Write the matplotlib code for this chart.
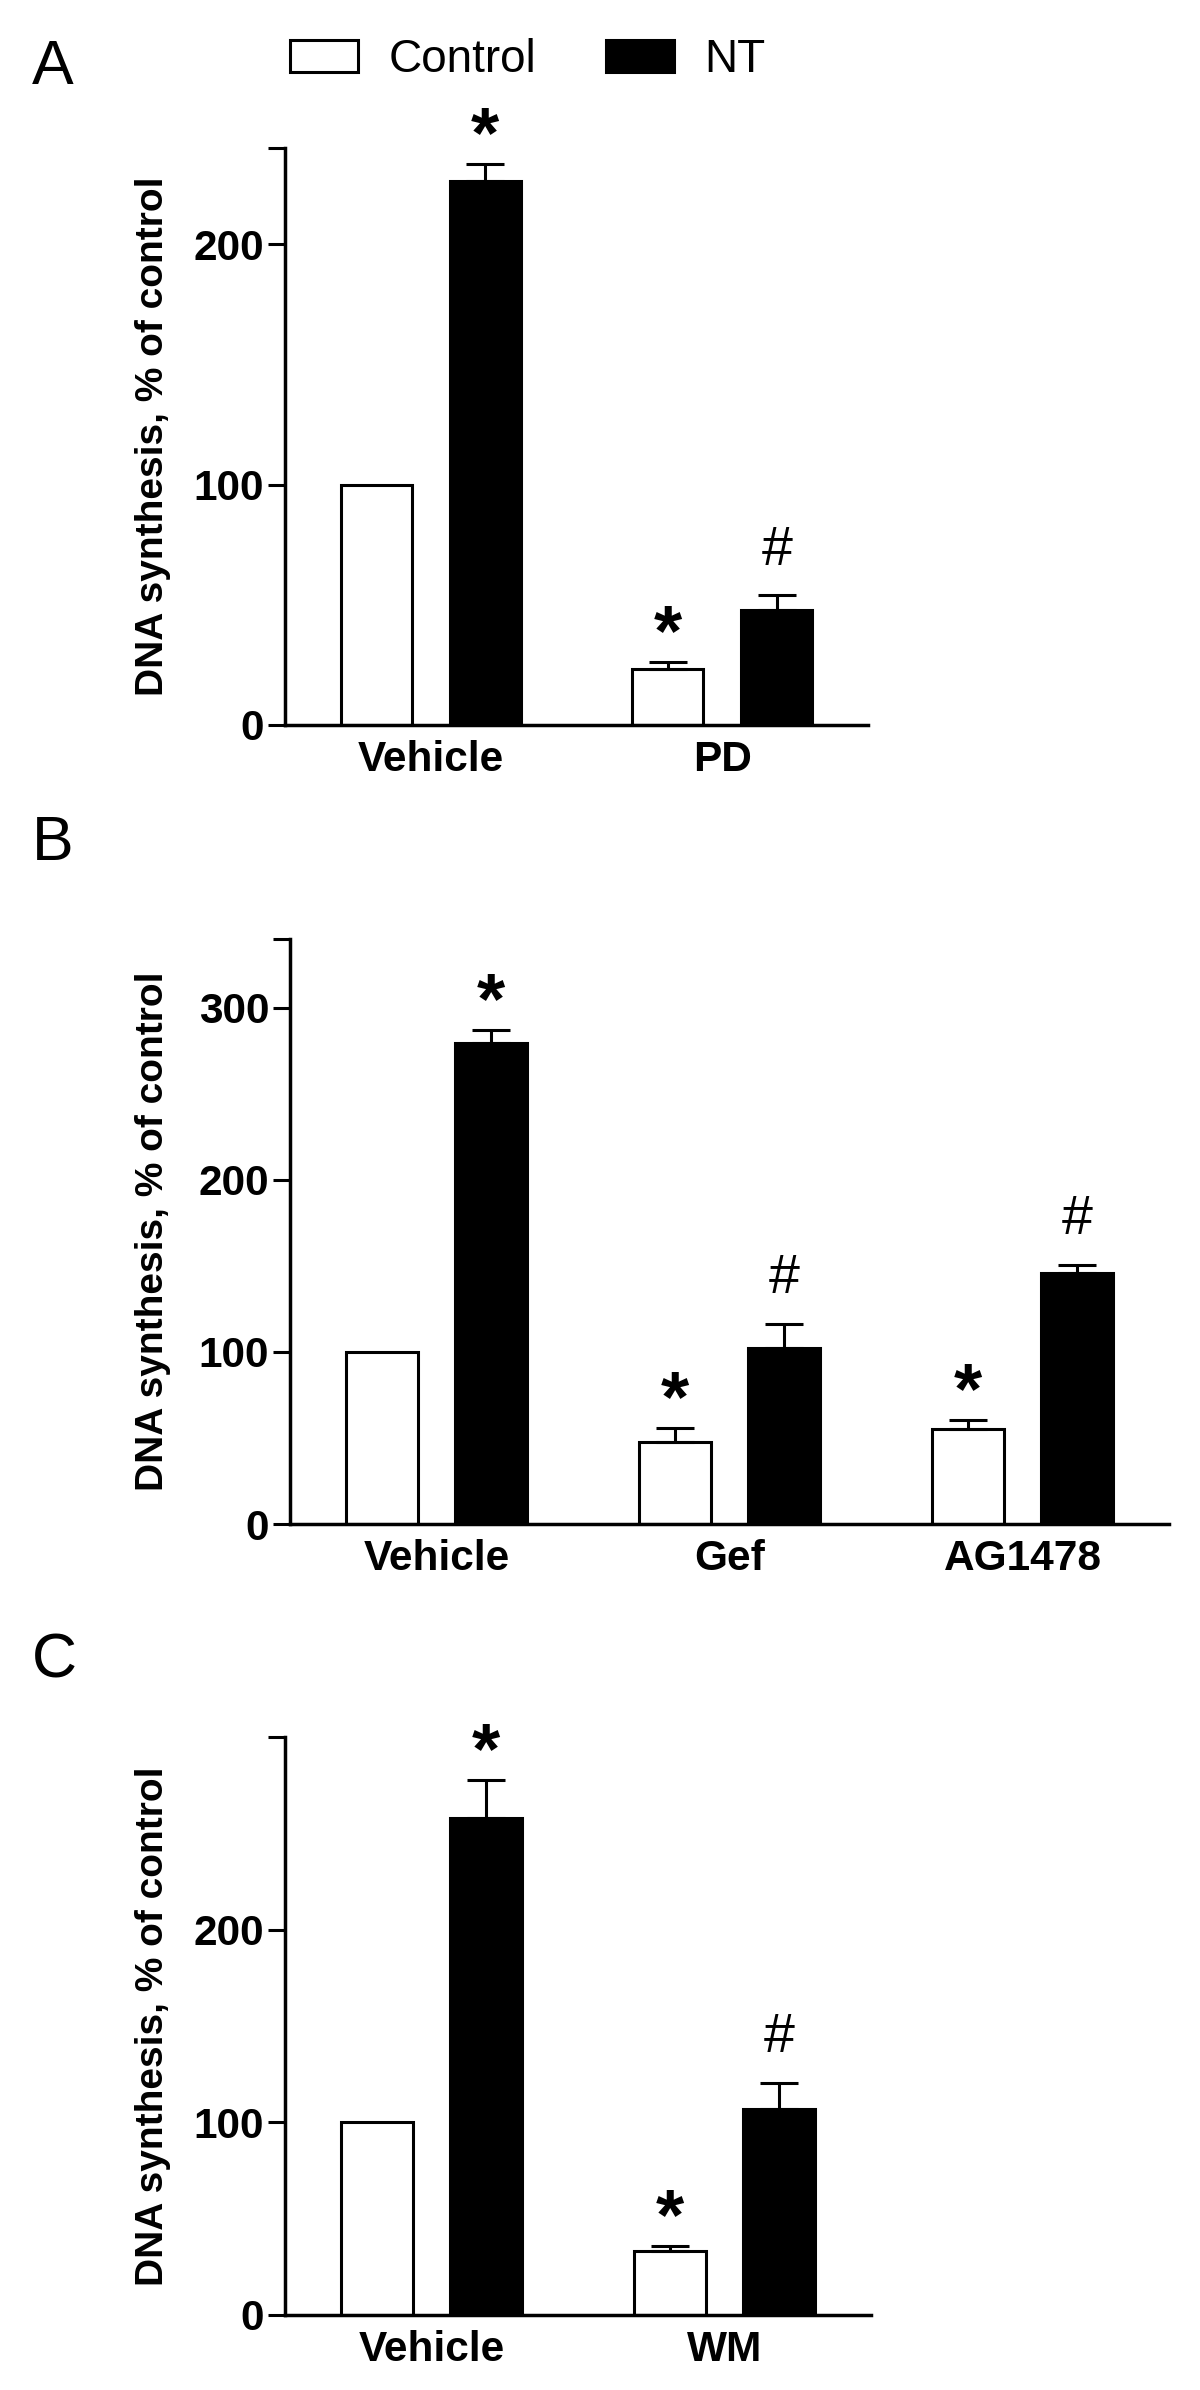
import matplotlib.pyplot as plt
import numpy as np

plt.rcParams['font.family'] = ['Liberation Sans', 'DejaVu Sans']

# panel A
a_groups = ['Vehicle', 'PD']
a_ctrl = [100, 23.3]
a_ctrl_err = [0, 3]
a_nt = [226.3, 48]
a_nt_err = [7, 6]
a_ctrl_marks = ['', '*']
a_nt_marks = ['*', '#']
a_yticks = [0, 100, 200, 240]
a_yticklabels = ['0', '100', '200', '']

# panel B
b_groups = ['Vehicle', 'Gef', 'AG1478']
b_ctrl = [100, 47.7, 55.3]
b_ctrl_err = [0, 8, 5]
b_nt = [279.5, 102.3, 146]
b_nt_err = [7.5, 14, 4.5]
b_ctrl_marks = ['', '*', '*']
b_nt_marks = ['*', '#', '#']
b_yticks = [0, 100, 200, 300, 340]
b_yticklabels = ['0', '100', '200', '300', '']

# panel C
c_groups = ['Vehicle', 'WM']
c_ctrl = [100, 33]
c_ctrl_err = [0, 3]
c_nt = [258, 107]
c_nt_err = [19.5, 13.5]
c_ctrl_marks = ['', '*']
c_nt_marks = ['*', '#']
c_yticks = [0, 100, 200, 300]
c_yticklabels = ['0', '100', '200', '']

W, H = 1200, 2390
fig = plt.figure(figsize=(W / 100, H / 100), dpi=100)

LW = 2.2
BW = 0.245
OFF = 0.187


def mark(ax, xs, vals, errs, marks):
    for xi, v, e, m in zip(xs, vals, errs, marks):
        if m == '*':
            ax.annotate(m, (xi, v + e), xytext=(0, 5), textcoords='offset points',
                        ha='center', va='baseline', fontsize=52, fontweight='bold',
                        annotation_clip=False)
        elif m == '#':
            ax.annotate(m, (xi, v + e), xytext=(0, 22), textcoords='offset points',
                        ha='center', va='baseline', fontsize=40,
                        annotation_clip=False)


def panel(box, letter, letter_y, groups, ctrl, ctrl_err, nt, nt_err,
          ctrl_marks, nt_marks, yticks, yticklabels):
    l, t, r, b = box
    ax = fig.add_axes([l / W, 1 - b / H, (r - l) / W, (b - t) / H])
    x = np.arange(len(groups))
    bc = ax.bar(x - OFF, ctrl, BW, color='white', edgecolor='black',
                linewidth=LW, label='Control', zorder=2)
    bn = ax.bar(x + OFF, nt, BW, color='black', edgecolor='black',
                linewidth=LW, label='NT', zorder=2)
    for xs, vals, errs in [(x - OFF, ctrl, ctrl_err), (x + OFF, nt, nt_err)]:
        errs = np.array(errs, dtype=float)
        keep = errs > 0
        ax.errorbar(np.array(xs)[keep], np.array(vals)[keep],
                    yerr=[np.zeros(keep.sum()), errs[keep]], fmt='none',
                    ecolor='black', elinewidth=LW, capsize=14, capthick=LW, zorder=3)
    mark(ax, x - OFF, ctrl, ctrl_err, ctrl_marks)
    mark(ax, x + OFF, nt, nt_err, nt_marks)

    ax.set_xlim(-0.5, len(groups) - 0.5)
    ax.set_ylim(0, yticks[-1])
    for s in ['top', 'right']:
        ax.spines[s].set_visible(False)
    for s in ['left', 'bottom']:
        ax.spines[s].set_linewidth(2.5)
    ax.set_xticks(x, groups)
    ax.set_yticks(yticks, yticklabels)
    ax.tick_params(axis='y', length=12, width=2.2, pad=3, labelsize=30.5)
    ax.tick_params(axis='x', length=0, pad=11, labelsize=30.5)
    for lab in ax.get_xticklabels() + ax.get_yticklabels():
        lab.set_fontweight('bold')
    ax.set_ylabel('DNA synthesis, % of control', fontsize=28, fontweight='bold')
    ax.yaxis.set_label_coords((171 - l) / (r - l), 0.5)
    fig.text(32 / W, 1 - letter_y / H, letter, fontsize=45, va='baseline')
    return bc, bn


bc, bn = panel((285, 148, 868, 725), 'A', 84, a_groups, a_ctrl, a_ctrl_err,
               a_nt, a_nt_err, a_ctrl_marks, a_nt_marks, a_yticks, a_yticklabels)
panel((290, 939, 1169, 1524), 'B', 860, b_groups, b_ctrl, b_ctrl_err,
      b_nt, b_nt_err, b_ctrl_marks, b_nt_marks, b_yticks, b_yticklabels)
panel((285, 1737, 871, 2315), 'C', 1678, c_groups, c_ctrl, c_ctrl_err,
      c_nt, c_nt_err, c_ctrl_marks, c_nt_marks, c_yticks, c_yticklabels)

fs = 33 * 100 / 72
fig.legend(handles=[bc, bn], labels=['Control', 'NT'], loc='center left',
           bbox_to_anchor=(290 / W, 1 - 60 / H), ncol=2, frameon=False,
           fontsize=33, handlelength=68 / fs, handleheight=33 / fs,
           handletextpad=31 / fs, columnspacing=69 / fs,
           borderpad=0, borderaxespad=0)

fig.savefig('out.png', dpi=100)
